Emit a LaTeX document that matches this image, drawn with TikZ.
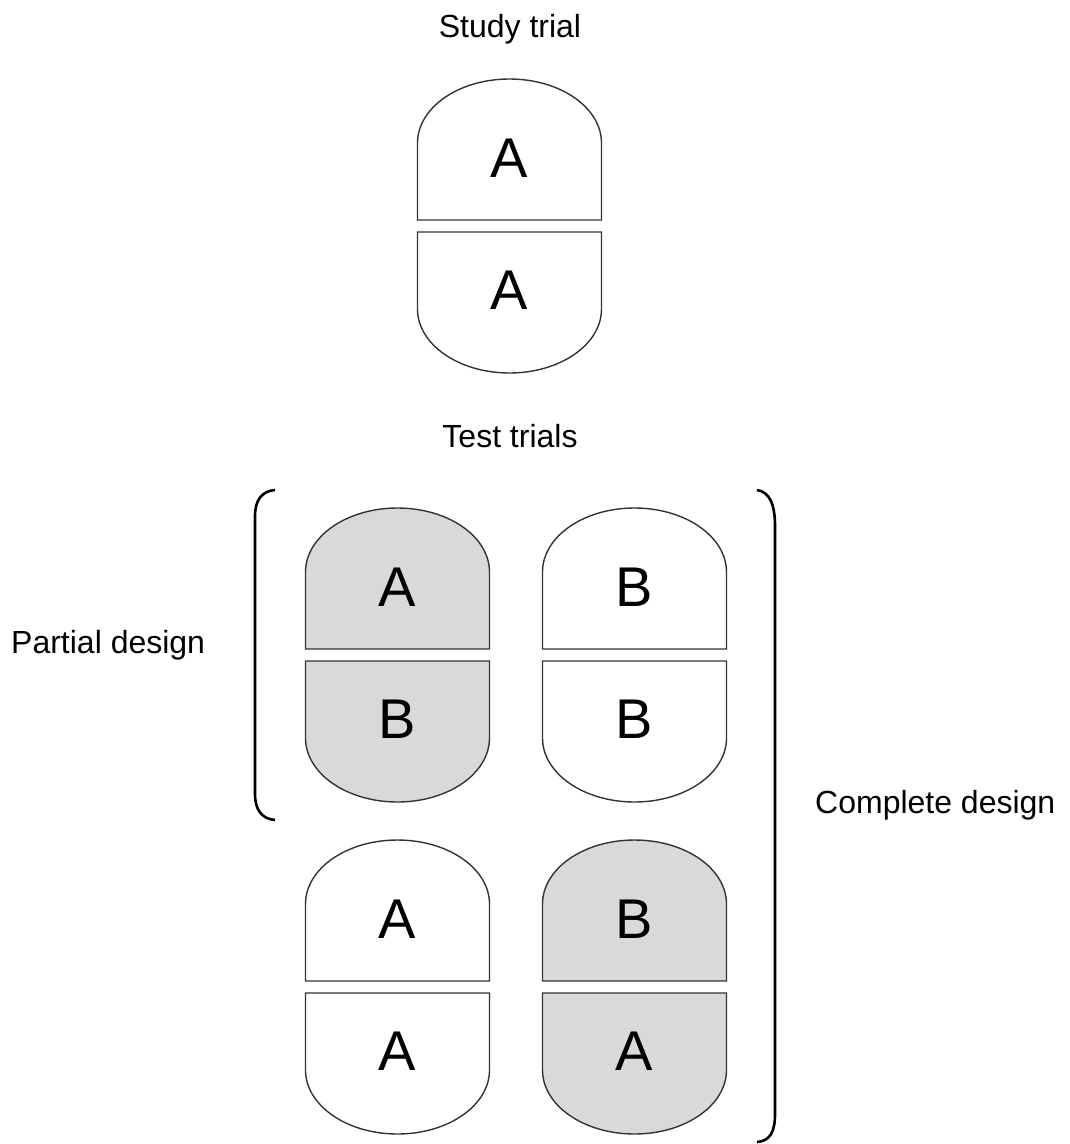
\documentclass[tikz,border=0pt]{standalone}
\usepackage{fontspec}
\setmainfont{Liberation Sans}
\usepackage{tikz}
\usepackage{color}
\definecolor{lightgrey}{RGB}{217,217,217}

\begin{document}
\begin{tikzpicture}[x=1pt,y=1pt]
\tikzstyle{every node}+=[inner sep=0pt]
\tikzstyle{half}=[draw=black!80,line width=1.4pt,fill=white]
\tikzstyle{greyhalf}=[half,fill=lightgrey]
\tikzstyle{letter}=[font=\fontsize{56}{60}\selectfont]
\tikzstyle{caption}=[font=\fontsize{32}{38}\selectfont,anchor=base]
\tikzstyle{bracket}=[draw=black,line width=2.6pt]
\useasboundingbox (0,0) rectangle (1070,-1144);
% labels
\node [caption] (study) at (510,-37) {Study trial};
\node [caption] (test) at (510,-447) {Test trials};
\node [caption,anchor=base west] (partial) at (11,-653) {Partial design};
\node [caption,anchor=base west] (complete) at (815,-813) {Complete design};
% study trial
\draw [half] (417.5,-220) -- (417.5,-143) arc (180:0:92 and 64) -- (601.5,-220) -- cycle;
\draw [half] (417.5,-232) -- (417.5,-309) arc (180:360:92 and 64) -- (601.5,-232) -- cycle;
\node [letter] (s1) at (509.5,-158) {A};
\node [letter] (s2) at (509.5,-290) {A};
% partial design, left
\draw [greyhalf] (305.5,-649) -- (305.5,-572) arc (180:0:92 and 64) -- (489.5,-649) -- cycle;
\draw [greyhalf] (305.5,-661) -- (305.5,-738) arc (180:360:92 and 64) -- (489.5,-661) -- cycle;
\node [letter] (p1) at (397.5,-587) {A};
\node [letter] (p2) at (397.5,-719) {B};
% partial design, right
\draw [half] (542.5,-649) -- (542.5,-572) arc (180:0:92 and 64) -- (726.5,-649) -- cycle;
\draw [half] (542.5,-661) -- (542.5,-738) arc (180:360:92 and 64) -- (726.5,-661) -- cycle;
\node [letter] (q1) at (634.5,-587) {B};
\node [letter] (q2) at (634.5,-719) {B};
% complete design, left
\draw [half] (305.5,-981) -- (305.5,-904) arc (180:0:92 and 64) -- (489.5,-981) -- cycle;
\draw [half] (305.5,-993) -- (305.5,-1070) arc (180:360:92 and 64) -- (489.5,-993) -- cycle;
\node [letter] (c1) at (397.5,-919) {A};
\node [letter] (c2) at (397.5,-1051) {A};
% complete design, right
\draw [greyhalf] (542.5,-981) -- (542.5,-904) arc (180:0:92 and 64) -- (726.5,-981) -- cycle;
\draw [greyhalf] (542.5,-993) -- (542.5,-1070) arc (180:360:92 and 64) -- (726.5,-993) -- cycle;
\node [letter] (d1) at (634.5,-919) {B};
\node [letter] (d2) at (634.5,-1051) {A};
% brackets
\draw [bracket] (275,-490) .. controls (262,-491) and (255,-500) .. (255,-516) -- (255,-794) .. controls (255,-810) and (262,-819) .. (275,-820);
\draw [bracket] (757,-490) .. controls (770,-492) and (775,-505) .. (775,-526) -- (775,-1114) .. controls (775,-1132) and (770,-1141) .. (757,-1142);
\end{tikzpicture}
\end{document}
